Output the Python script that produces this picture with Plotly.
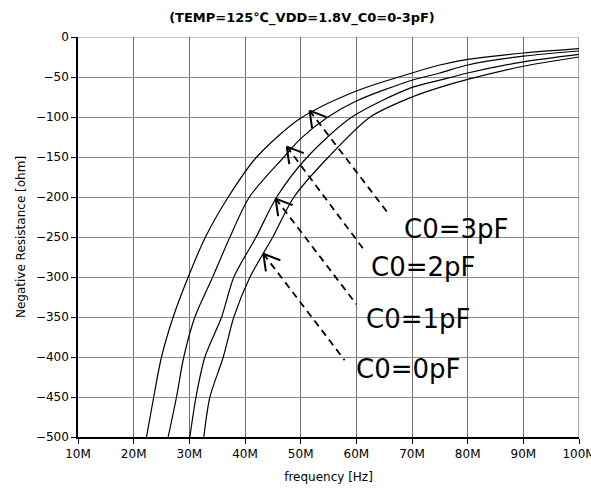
import plotly.graph_objects as go

# ---- data (frequency in MHz, negative resistance in ohm) ----
f_3pF = [22.3, 23.6, 25.0, 27.1, 29.8, 32.9, 37.0, 42.1, 49.9, 60.0, 70.0, 75.0, 80.0, 90.0, 100.0]
r_3pF = [-500, -450, -400, -350, -300, -250, -200, -150, -102, -67.5, -45, -35, -28, -20, -14.5]

f_2pF = [26.2, 27.7, 29.0, 31.0, 34.2, 37.3, 40.8, 47.0, 50.0, 54.9, 60.0, 70.0, 75.0, 80.0, 90.0, 100.0]
r_2pF = [-500, -450, -400, -350, -300, -250, -200, -150, -127, -100, -80, -54, -45, -35, -24, -17.5]

f_1pF = [30.1, 31.2, 32.8, 35.8, 38.0, 42.0, 45.7, 51.2, 59.2, 70.0, 75.0, 80.0, 90.0, 100.0]
r_1pF = [-500, -450, -400, -350, -300, -250, -200, -150, -100, -63, -54, -45, -31, -21.6]

f_0pF = [32.6, 33.7, 36.1, 38.0, 40.9, 45.0, 48.8, 55.0, 62.5, 70.0, 75.0, 80.0, 90.0, 100.0]
r_0pF = [-500, -450, -400, -350, -300, -250, -200, -150, -100, -75, -63, -53, -36.6, -25]

series = [("C0=3pF", f_3pF, r_3pF), ("C0=2pF", f_2pF, r_2pF),
          ("C0=1pF", f_1pF, r_1pF), ("C0=0pF", f_0pF, r_0pF)]

x_tickvals = [10, 20, 30, 40, 50, 60, 70, 80, 90, 100]
x_ticktext = ["10M", "20M", "30M", "40M", "50M", "60M", "70M", "80M", "90M", "100M"]
y_tickvals = [0, -50, -100, -150, -200, -250, -300, -350, -400, -450, -500]

# annotation callouts: label, arrow tip (f, R), dashed-line end (f, R), label anchor (f, R)
callouts = [
    ("C0=3pF", (51.6, -92), (66.0, -223), (68.2, -240)),
    ("C0=2pF", (47.5, -137), (61.7, -269), (62.2, -287)),
    ("C0=1pF", (45.5, -202), (60.0, -334), (61.3, -352)),
    ("C0=0pF", (43.3, -271), (57.9, -404), (59.6, -415)),
]

W, H = 591, 490
ML, MR, MT, MB = 78, 12, 37, 53
x_range = [10, 100]
y_range = [-500, 0]
px_per_x = (W - ML - MR) / (x_range[1] - x_range[0])
px_per_y = (H - MT - MB) / (y_range[1] - y_range[0])

fig = go.Figure()
for name, fx, ry in series:
    fig.add_trace(go.Scatter(x=fx, y=ry, mode="lines", name=name,
                             line=dict(color="black", width=1.2, shape="spline", smoothing=0.8),
                             showlegend=False))

shapes = [
    # right border grid line at 100M and top grid line at 0
    dict(type="line", xref="x", yref="paper", x0=100, x1=100, y0=0, y1=1,
         line=dict(color="#707070", width=1.2), layer="below"),
    dict(type="line", xref="paper", yref="y", x0=0, x1=1, y0=0, y1=0,
         line=dict(color="#8a8a8a", width=1.2), layer="below"),
]
annotations = []
arms_px = [(2.5, 17.5), (17.0, 6.5)]
for label, tip, end, lab in callouts:
    shapes.append(dict(type="line", xref="x", yref="y", x0=tip[0], y0=tip[1],
                       x1=end[0], y1=end[1],
                       line=dict(color="black", width=1.8, dash="7px,5px")))
    for dx, dy in arms_px:
        shapes.append(dict(type="line", xref="x", yref="y", x0=tip[0], y0=tip[1],
                           x1=tip[0] + dx / px_per_x, y1=tip[1] - dy / px_per_y,
                           line=dict(color="black", width=2)))
    annotations.append(dict(x=lab[0], y=lab[1], xref="x", yref="y", text=label,
                            showarrow=False, xanchor="left", yanchor="middle",
                            font=dict(family="DejaVu Sans", size=26, color="black")))

fig.update_layout(
    width=W, height=H,
    margin=dict(l=ML, r=MR, t=MT, b=MB, autoexpand=False),
    paper_bgcolor="white", plot_bgcolor="white",
    title=dict(text="<b>(TEMP=125℃_VDD=1.8V_C0=0-3pF)</b>",
               x=302 / W, xref="container", xanchor="center",
               y=1 - 17 / H, yref="container", yanchor="middle", pad=dict(t=0, b=0),
               font=dict(family="DejaVu Sans", size=13, color="black")),
    shapes=shapes, annotations=annotations,
    font=dict(family="DejaVu Sans", color="black"),
)
fig.update_xaxes(range=x_range, tickvals=x_tickvals, ticktext=x_ticktext,
                 showgrid=True, gridcolor="#707070", gridwidth=1.2,
                 showline=True, linecolor="black", linewidth=1.5,
                 ticks="outside", ticklen=5, tickcolor="black", automargin=False,
                 tickfont=dict(size=12), zeroline=False, ticklabeloverflow="allow",
                 title=dict(text="frequency [Hz]", font=dict(size=12), standoff=12))
fig.update_yaxes(range=y_range, tickvals=y_tickvals,
                 showgrid=True, gridcolor="#8a8a8a", gridwidth=1.2,
                 showline=True, linecolor="black", linewidth=1.5,
                 ticks="outside", ticklen=5, tickcolor="black", automargin=False,
                 tickfont=dict(size=12), zeroline=False,
                 title=dict(text="Negative Resistance [ohm]", font=dict(size=12), standoff=8))

fig.write_html("out.html", config={"displayModeBar": False},
               post_script="document.body.style.margin='0';document.body.style.overflow='hidden';")
